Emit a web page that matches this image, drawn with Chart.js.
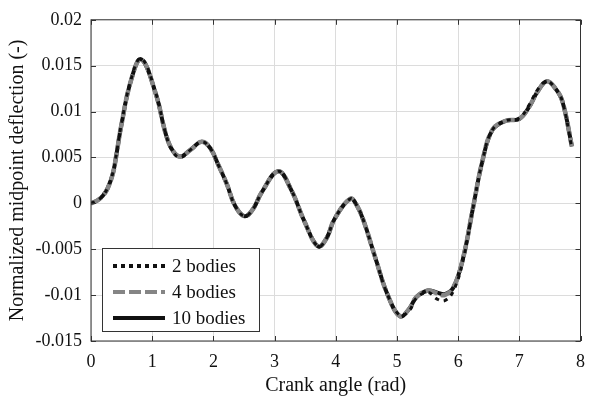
<!DOCTYPE html>
<html>
<head>
<meta charset="utf-8">
<script src="https://cdn.jsdelivr.net/npm/chart.js@4.4.1/dist/chart.umd.min.js"></script>
<style>
  html, body { margin: 0; padding: 0; background: #fff; }
  #wrap { width: 595px; height: 396px; }
</style>
</head>
<body>
<div id="wrap"><canvas id="deflection"></canvas></div>
<script>
// crank angle (rad) and normalized midpoint deflection
var crankAngle = [0.00, 0.10, 0.19, 0.27, 0.36, 0.42, 0.49, 0.65, 0.82, 1.06, 1.22, 1.33, 1.46, 1.62, 1.81, 1.95, 2.08, 2.22, 2.35, 2.51, 2.65, 2.79, 3.06, 3.27, 3.49, 3.71, 3.85, 3.98, 4.24, 4.35, 4.46, 4.65, 4.85, 5.05, 5.20, 5.32, 5.51, 5.65, 5.78, 5.92, 6.08, 6.24, 6.40, 6.56, 6.78, 7.00, 7.16, 7.30, 7.45, 7.58, 7.70, 7.86];

var bodies10 = [0.0000, 0.0003, 0.0008, 0.0016, 0.0033, 0.0055, 0.0083, 0.0133, 0.0157, 0.0119, 0.0076, 0.0058, 0.0051, 0.0058, 0.0067, 0.0060, 0.0042, 0.0021, -0.0002, -0.0014, -0.0006, 0.0012, 0.0035, 0.0015, -0.0020, -0.0047, -0.0038, -0.0017, 0.0005, -0.0003, -0.0020, -0.0060, -0.0100, -0.0123, -0.0115, -0.0102, -0.0095, -0.0097, -0.0099, -0.0092, -0.0060, -0.0006, 0.0047, 0.0080, 0.0090, 0.0092, 0.0105, 0.0122, 0.0133, 0.0126, 0.0112, 0.0062];

var bodies4 = [0.0000, 0.0003, 0.0008, 0.0016, 0.0033, 0.0055, 0.0083, 0.0133, 0.0157, 0.0119, 0.0076, 0.0058, 0.0051, 0.0058, 0.0067, 0.0060, 0.0042, 0.0021, -0.0002, -0.0014, -0.0006, 0.0012, 0.0035, 0.0015, -0.0020, -0.0047, -0.0038, -0.0017, 0.0005, -0.0003, -0.0020, -0.0060, -0.0100, -0.0123, -0.0115, -0.0102, -0.0095, -0.0098, -0.0100, -0.0092, -0.0060, -0.0006, 0.0047, 0.0080, 0.0090, 0.0092, 0.0105, 0.0122, 0.0133, 0.0126, 0.0112, 0.0062];

var bodies2 = [0.0000, 0.0003, 0.0008, 0.0017, 0.0034, 0.0056, 0.0084, 0.0134, 0.0158, 0.0120, 0.0076, 0.0057, 0.0050, 0.0058, 0.0067, 0.0060, 0.0042, 0.0021, -0.0002, -0.0014, -0.0006, 0.0012, 0.0035, 0.0015, -0.0020, -0.0047, -0.0038, -0.0017, 0.0005, -0.0003, -0.0020, -0.0060, -0.0100, -0.0122, -0.0117, -0.0103, -0.0097, -0.0104, -0.0106, -0.0096, -0.0062, -0.0006, 0.0047, 0.0080, 0.0090, 0.0093, 0.0107, 0.0124, 0.0133, 0.0126, 0.0112, 0.0060];

var xTicks = [0, 1, 2, 3, 4, 5, 6, 7, 8];
var yTicks = [-0.015, -0.01, -0.005, 0, 0.005, 0.01, 0.015, 0.02];

function points(ys) {
    return crankAngle.map(function (x, i) { return { x: x, y: ys[i] }; });
}

var serif = "'Liberation Serif', 'Times New Roman', serif";

// box, inward tick marks and the legend drawn inside the axes
var frame = {
    id: "frame",
    afterDraw: function (chart) {
        var ctx = chart.ctx;
        var a = chart.chartArea;
        var xs = chart.scales.x, ys = chart.scales.y;
        ctx.save();
        ctx.strokeStyle = "#333";
        ctx.lineWidth = 1;
        ctx.strokeRect(a.left, a.top, a.right - a.left, a.bottom - a.top);
        ctx.beginPath();
        xTicks.forEach(function (t) {
            var px = Math.round(xs.getPixelForValue(t)) + 0.5;
            ctx.moveTo(px, a.bottom); ctx.lineTo(px, a.bottom - 5);
            ctx.moveTo(px, a.top); ctx.lineTo(px, a.top + 5);
        });
        yTicks.forEach(function (t) {
            var py = Math.round(ys.getPixelForValue(t)) + 0.5;
            ctx.moveTo(a.left, py); ctx.lineTo(a.left + 5, py);
            ctx.moveTo(a.right, py); ctx.lineTo(a.right - 5, py);
        });
        ctx.stroke();

        // legend
        var bx = a.left + 11, by = a.bottom - 93, bw = 157, bh = 83;
        ctx.fillStyle = "#fff";
        ctx.fillRect(bx, by, bw, bh);
        ctx.strokeStyle = "#333";
        ctx.strokeRect(bx + 0.5, by + 0.5, bw, bh);
        ctx.font = "19px " + serif;
        ctx.textBaseline = "middle";
        chart.data.datasets.forEach(function (ds, i) {
            var ry = by + 18 + i * 26;
            ctx.beginPath();
            ctx.strokeStyle = ds.borderColor;
            ctx.lineWidth = 4;
            ctx.setLineDash(ds.borderDash ? [ds.borderDash[0], Math.min(ds.borderDash[1], 4)] : []);
            ctx.moveTo(bx + 11, ry);
            ctx.lineTo(bx + 63, ry);
            ctx.stroke();
            ctx.setLineDash([]);
            ctx.fillStyle = "#111";
            ctx.fillText(ds.label, bx + 70, ry + 1);
        });
        ctx.restore();
    }
};

new Chart(document.getElementById("deflection"), {
    type: "line",
    data: {
        datasets: [
            {
                label: "2 bodies",
                data: points(bodies2),
                borderColor: "#111",
                borderWidth: 3,
                borderDash: [4, 5],
            },
            {
                label: "4 bodies",
                data: points(bodies4),
                borderColor: "#858585",
                borderWidth: 4.5,
                borderDash: [12, 4],
            },
            {
                label: "10 bodies",
                data: points(bodies10),
                borderColor: "#111",
                borderWidth: 4,
            },
        ],
    },
    options: {
        responsive: true,
        maintainAspectRatio: false,
        animation: false,
        devicePixelRatio: 1,
        layout: { padding: { top: 14, right: 9, left: 0, bottom: 0 } },
        elements: {
            point: { radius: 0 },
            line: { tension: 0.4, fill: false },
        },
        plugins: {
            legend: { display: false },
            tooltip: { enabled: false },
        },
        scales: {
            x: {
                type: "linear",
                min: 0,
                max: 8,
                afterBuildTicks: function (s) { s.ticks = xTicks.map(function (v) { return { value: v }; }); },
                afterFit: function (s) { s.height = 55; },
                grid: { color: "#dcdcdc", drawTicks: false },
                border: { display: false },
                ticks: {
                    padding: 10,
                    color: "#111",
                    font: { family: serif, size: 18 },
                    maxRotation: 0,
                },
                title: {
                    display: true,
                    text: "Crank angle (rad)",
                    color: "#111",
                    font: { family: serif, size: 20, lineHeight: 1 },
                    padding: { top: 0, bottom: 0 },
                },
            },
            y: {
                min: -0.015,
                max: 0.02,
                afterBuildTicks: function (s) { s.ticks = yTicks.map(function (v) { return { value: v }; }); },
                afterFit: function (s) { s.width = 91; },
                grid: { color: "#dcdcdc", drawTicks: false },
                border: { display: false },
                ticks: {
                    padding: 9,
                    color: "#111",
                    font: { family: serif, size: 18 },
                    callback: function (v) { return String(Math.round(v * 1000) / 1000); },
                },
                title: {
                    display: true,
                    text: "Normalized midpoint deflection (-)",
                    color: "#111",
                    font: { family: serif, size: 20, lineHeight: 1 },
                    padding: { top: 8, bottom: 0 },
                },
            },
        },
    },
    plugins: [frame],
});
</script>
</body>
</html>
